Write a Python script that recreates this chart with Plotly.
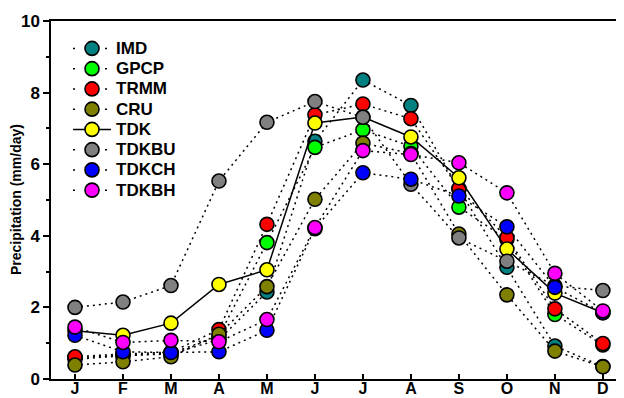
import plotly.graph_objects as go

months = ["J", "F", "M", "A", "M", "J", "J", "A", "S", "O", "N", "D"]
x_idx = list(range(12))

series_names = ["IMD", "GPCP", "TRMM", "CRU", "TDK", "TDKBU", "TDKCH", "TDKBH"]

imd   = [0.55, 0.65, 0.70, 1.10, 2.43, 6.64, 8.35, 7.64, 5.30, 3.12, 0.92, 0.35]
gpcp  = [0.60, 0.65, 0.72, 1.20, 3.81, 6.47, 6.96, 6.50, 4.80, 3.90, 1.80, 0.95]
trmm  = [0.62, 0.70, 0.75, 1.38, 4.32, 7.38, 7.68, 7.27, 5.32, 3.95, 1.96, 0.99]
cru   = [0.39, 0.48, 0.62, 1.25, 2.58, 5.02, 6.59, 6.30, 4.05, 2.35, 0.78, 0.34]
tdk   = [1.35, 1.22, 1.56, 2.64, 3.05, 7.15, 7.32, 6.76, 5.62, 3.63, 2.40, 1.85]
tdkbu = [2.00, 2.15, 2.61, 5.53, 7.17, 7.75, 7.31, 5.44, 3.94, 3.29, 2.60, 2.47]
tdkch = [1.22, 0.76, 0.74, 0.76, 1.36, 4.20, 5.76, 5.58, 5.11, 4.25, 2.56, 1.85]
tdkbh = [1.45, 1.02, 1.08, 1.04, 1.66, 4.23, 6.38, 6.27, 6.04, 5.20, 2.95, 1.90]

values = [imd, gpcp, trmm, cru, tdk, tdkbu, tdkch, tdkbh]
colors = ["#008080", "#00FF00", "#FF0000", "#808000", "#FFFF00", "#808080", "#0000FF", "#FF00FF"]
dashes = ["2px,4px", "2px,4px", "2px,4px", "2px,4px", "solid", "2px,4px", "2px,4px", "2px,4px"]

FONT = "Liberation Sans, Arial, sans-serif"

# the page body has an 8px default margin; size the figure to fill the rest
OFF = 8
W, H = 624 - OFF, 398 - OFF
ML, MR, MT, MB = 51 - OFF, 0, 20.5 - OFF, 18.5
PW, PH = W - ML - MR, H - MT - MB


def px_to_paper_x(px):
    return (px - OFF - ML) / PW


def px_to_paper_y(py):
    return (H - MB - (py - OFF)) / PH


fig = go.Figure()
for name, vals, col, dash in zip(series_names, values, colors, dashes):
    fig.add_trace(go.Scatter(
        x=x_idx, y=vals, name=name, mode="lines+markers",
        line=dict(color="black", width=1.5, dash=dash),
        marker=dict(size=14, color=col, line=dict(color="black", width=1.6)),
    ))

# custom legend (built from series names / colours)
shapes = []
annotations = []
LEG_X_MARK, LEG_X_TEXT, LEG_Y0, LEG_DY = 92, 114, 48, 20.3
for i, (name, col, dash) in enumerate(zip(series_names, colors, dashes)):
    yy = px_to_paper_y(LEG_Y0 + i * LEG_DY)
    shapes.append(dict(
        type="line", xref="paper", yref="paper",
        x0=px_to_paper_x(73), x1=px_to_paper_x(111), y0=yy, y1=yy,
        line=dict(color="black", width=1.5, dash=dash if dash == "solid" else "2px,14px"),
    ))
    shapes.append(dict(
        type="circle", xref="paper", yref="paper",
        xsizemode="pixel", ysizemode="pixel",
        xanchor=px_to_paper_x(LEG_X_MARK), yanchor=yy,
        x0=-7, x1=7, y0=-7, y1=7,
        fillcolor=col, line=dict(color="black", width=1.6),
    ))
    annotations.append(dict(
        text=name, xref="paper", yref="paper",
        x=px_to_paper_x(LEG_X_TEXT), y=yy, xanchor="left", yanchor="middle",
        showarrow=False,
        font=dict(family=FONT, size=17, color="black", weight="bold"),
    ))

annotations.append(dict(
    text="Precipitation (mm/day)", textangle=-90,
    xref="paper", yref="paper", x=px_to_paper_x(16), y=0.5,
    xanchor="center", yanchor="middle", showarrow=False,
    font=dict(family=FONT, size=14, color="black", weight="bold"),
))

fig.update_layout(
    width=W, height=H,
    margin=dict(l=ML, r=MR, t=MT, b=MB, autoexpand=False),
    paper_bgcolor="white", plot_bgcolor="white",
    font=dict(family=FONT, color="black"),
    showlegend=False,
    xaxis=dict(
        range=[-0.5, 11.44], automargin=False,
        tickmode="array", tickvals=x_idx, ticktext=months,
        ticks="inside", ticklen=5, tickwidth=1.5, tickcolor="black",
        ticklabelstandoff=-6,
        showline=True, linecolor="black", linewidth=1.5, mirror=True,
        showgrid=False, zeroline=False,
        tickfont=dict(family=FONT, size=16, color="black", weight="bold"),
    ),
    yaxis=dict(
        range=[0, 10], automargin=False,
        tickmode="array", tickvals=[0, 2, 4, 6, 8, 10],
        ticks="outside", ticklen=6, tickwidth=1.5, tickcolor="black",
        minor=dict(tickvals=[1, 3, 5, 7, 9], ticks="outside", ticklen=3, tickwidth=1.5, tickcolor="black"),
        showline=True, linecolor="black", linewidth=1.5,
        showgrid=False, zeroline=False,
        tickfont=dict(family=FONT, size=17, color="black", weight="bold"),
    ),
    shapes=shapes,
    annotations=annotations,
)

fig.write_html("out.html")
